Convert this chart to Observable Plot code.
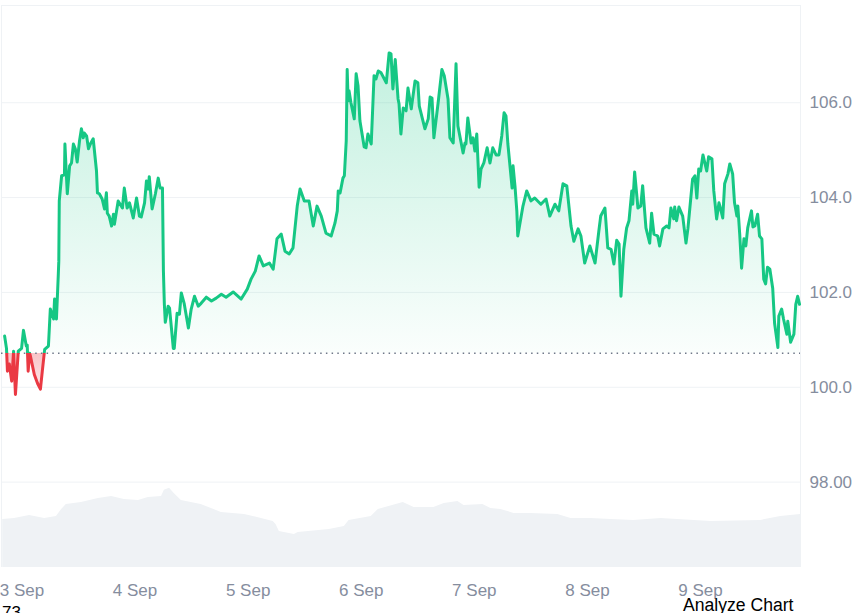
<!DOCTYPE html>
<html><head><meta charset="utf-8">
<script src="https://cdn.jsdelivr.net/npm/d3@7"></script>
<script src="https://cdn.jsdelivr.net/npm/@observablehq/plot@0.6"></script>
<style>
html,body{margin:0;padding:0;background:#fff;overflow:hidden;width:855px;height:613px}
#chart{position:absolute;left:0;top:0}
.foot{position:absolute;font:17px "Liberation Sans",Arial,sans-serif;color:#000;white-space:nowrap}
</style></head><body>
<div id="chart"></div>
<div class="foot" id="leftNote" style="left:2px;top:603px">73</div>
<div class="foot" id="rightNote" style="left:683px;top:595px;font-size:17.6px">Analyze Chart</div>
<script>
// hours since 3 Sep 00:00
const priceHours = [-4.0,-3.6,-3.4,-3.0,-2.5,-2.1,-1.7,-1.1,-0.4,0,0.6,0.8,1.0,1.3,1.5,2.3,3.0,3.6,4.0,4.5,5.3,5.7,6.4,6.6,7.0,7.4,7.5,7.6,8.1,8.7,8.8,9.3,9.8,10.2,10.6,11.0,11.4,11.9,12.3,12.7,12.9,13.4,13.8,14.2,14.8,15.5,15.7,16.1,16.7,17.2,17.6,17.8,18.2,18.7,19.1,19.3,20.1,21.0,21.4,22.0,22.5,23.3,24.0,24.6,25.0,25.7,26.1,26.5,26.7,27.3,28.0,28.6,29.0,29.5,29.7,29.9,30.1,30.7,31.0,31.4,31.8,32.0,32.6,33.1,33.5,34.1,35.0,35.6,36.3,37.1,37.7,38.8,39.9,40.9,42.0,43.0,44.5,46.2,47.5,48.3,49.2,50.0,50.9,52.2,53.0,53.8,54.7,55.5,56.4,57.2,58.1,58.7,59.6,60.6,61.5,62.3,63.2,64.2,65.3,66.1,66.6,66.8,67.2,67.8,68.1,68.5,68.7,68.9,69.1,69.5,70.2,70.6,71.0,71.4,72.3,72.7,73.1,73.8,74.4,74.8,75.3,75.9,77.0,77.6,78.0,78.4,78.9,79.5,79.7,80.1,80.6,81.2,81.6,82.3,83.1,83.7,84.0,85.2,85.9,86.3,86.7,87.1,88.0,88.8,89.3,90.1,90.5,91.2,91.8,92.2,93.3,93.7,93.9,94.3,95.0,95.4,95.8,96.2,96.7,97.1,97.7,98.4,99.0,99.6,100.3,100.9,101.5,102.0,102.4,102.8,103.7,103.9,104.3,104.7,104.9,106.0,106.8,107.7,108.5,109.8,110.9,111.7,112.8,113.6,114.5,115.3,116.2,116.8,117.7,118.3,119.1,120.2,121.3,122.1,122.5,123.4,124.0,124.7,125.3,125.9,126.4,126.8,127.4,128.0,128.5,129.1,129.3,129.7,130.4,131.0,131.4,132.1,132.9,133.3,133.8,134.6,135.0,135.7,136.5,137.0,137.4,138.0,138.2,138.6,139.1,139.9,140.6,141.0,141.6,142.0,142.5,142.9,143.3,143.7,144.2,145.0,145.4,146.1,146.5,147.1,147.6,147.8,148.4,148.8,149.5,149.9,150.5,150.9,151.4,151.6,152.0,152.4,152.9,153.3,153.7,154.5,154.8,155.2,155.8,156.2,156.7,157.1,157.5,157.9,158.4,159.0,159.4,160.1,160.3,160.9,161.3,162.0,162.2,162.8,163.5,163.9,164.3,164.7];
const prices = [101.08,100.82,100.34,100.49,100.13,100.76,99.85,100.76,100.82,101.20,100.87,100.89,100.34,100.72,100.65,100.27,100.08,99.96,100.34,100.80,100.87,101.65,101.44,101.86,101.44,102.39,102.66,103.93,104.46,104.48,105.13,104.08,104.67,104.73,105.13,105.03,104.75,105.20,105.45,105.26,105.36,105.30,105.03,105.13,105.24,104.56,104.10,104.08,103.97,103.76,104.10,103.67,103.61,103.40,103.65,103.44,103.93,103.78,104.20,103.78,103.89,103.57,103.99,103.61,103.59,103.89,104.35,104.18,104.44,103.76,104.08,104.41,104.20,104.20,102.45,101.75,101.37,101.71,101.67,101.25,100.82,100.82,101.56,101.54,101.99,101.77,101.25,101.65,101.92,101.71,101.77,101.90,101.82,101.88,101.96,101.90,102.01,101.86,102.07,102.28,102.45,102.77,102.56,102.62,102.49,103.13,103.23,102.87,102.81,102.94,103.82,104.18,103.93,103.93,103.40,103.82,103.61,103.25,103.19,103.46,103.72,104.14,104.10,104.41,104.46,105.20,106.70,106.04,106.25,106.00,105.66,106.61,106.36,105.62,105.07,105.05,105.34,105.13,106.57,106.50,106.67,106.63,106.42,107.05,107.03,106.29,106.91,106.08,105.98,105.34,105.89,105.83,106.31,105.87,106.46,106.42,105.93,105.45,105.66,106.12,106.10,105.26,106.00,106.70,106.57,106.08,105.26,105.15,106.82,105.51,104.94,105.15,105.13,105.68,105.15,105.26,104.98,105.34,104.22,104.60,104.73,105.05,104.73,105.05,104.90,104.90,105.30,105.79,105.72,105.13,104.20,104.67,104.25,103.72,103.19,103.82,104.14,103.93,103.99,103.86,103.97,103.61,103.86,103.72,104.29,104.25,103.40,103.08,103.34,103.19,102.62,102.98,102.62,103.29,103.61,103.78,102.94,102.91,102.60,103.10,103.02,101.92,102.91,103.36,103.51,104.14,103.86,104.54,103.78,103.82,104.25,103.36,103.04,103.67,103.23,103.19,102.98,103.34,103.40,103.36,103.78,103.55,103.80,103.51,103.80,103.61,103.04,103.34,103.97,104.39,104.46,103.99,104.60,104.56,104.90,104.56,104.86,104.82,104.14,103.55,103.89,103.82,103.57,104.29,104.50,104.71,104.50,103.89,103.61,103.82,103.23,102.51,103.13,102.98,103.36,103.72,103.38,103.40,103.65,103.19,103.13,102.28,102.18,102.53,102.49,102.09,101.35,100.84,101.50,101.65,101.44,101.12,101.39,100.95,101.12,101.75,101.92,101.75];
const volumeHours = [-4.4,-1.9,1.3,4.5,7.0,8.1,9.1,12.3,15.9,18.7,21.4,24.4,26.5,29.3,29.9,31.0,32.0,33.5,37.7,42.0,46.9,50.5,53.0,53.6,54.3,57.5,58.3,64.9,68.1,69.1,73.8,75.3,80.6,82.9,87.1,89.3,92.2,93.5,97.5,99.2,101.3,104.1,107.7,113.4,116.2,120.4,124.7,129.5,135.3,145.9,156.5,160.7,164.9];
const volumes = [4.8,4.9,5.2,4.9,5.1,5.8,6.3,6.5,6.9,7.1,6.8,6.7,7.0,7.1,7.7,7.9,7.4,6.7,6.3,5.5,5.3,4.9,4.6,4.3,3.6,3.3,3.5,3.8,4.1,4.7,5.1,5.8,6.5,6.0,6.0,6.4,6.6,6.2,6.3,5.9,5.8,5.4,5.4,5.3,4.9,4.9,4.8,4.7,4.9,4.6,4.7,5.1,5.3];
const priceTicks = [98,100,102,104,106];
const dayTicks = [0,24,48,72,96,120,144];
const baseline = 100.72;
const priceTop = 108.05, priceBottom = 96.2;
const hourStart = -4.66, hourEnd = 164.9;
const volumeToPrice = 0.2112;

const GREEN = "#16c784", RED = "#ea3943", GRID = "#eff2f5", AXIS = "#858d9e";
const t = h => new Date(Date.UTC(2025, 8, 3) + h * 3600e3);
const priceData = priceHours.map((h, i) => ({time: t(h), price: prices[i]}));
const volumeData = volumeHours.map((h, i) => ({time: t(h), level: priceBottom + volumes[i] * volumeToPrice}));

function gradients(index, {y}) {
  const y0 = y(priceTop), y1 = y(priceBottom);
  const off = (y(baseline) - y0) / (y1 - y0);
  const defs = d3.create("svg:defs");
  const line = defs.append("linearGradient").attr("id", "lineGrad").attr("gradientUnits", "userSpaceOnUse")
    .attr("x1", 0).attr("x2", 0).attr("y1", y0).attr("y2", y1);
  line.append("stop").attr("offset", off).attr("stop-color", GREEN);
  line.append("stop").attr("offset", off).attr("stop-color", RED);
  const area = defs.append("linearGradient").attr("id", "areaGrad").attr("gradientUnits", "userSpaceOnUse")
    .attr("x1", 0).attr("x2", 0).attr("y1", y0).attr("y2", y1);
  area.append("stop").attr("offset", 0).attr("stop-color", GREEN).attr("stop-opacity", 0.3);
  area.append("stop").attr("offset", off).attr("stop-color", GREEN).attr("stop-opacity", 0.02);
  area.append("stop").attr("offset", off).attr("stop-color", RED).attr("stop-opacity", 0.3);
  area.append("stop").attr("offset", (y(99.8) - y0) / (y1 - y0)).attr("stop-color", RED).attr("stop-opacity", 0.08);
  return defs.node();
}

const chart = Plot.plot({
  width: 852, height: 613,
  marginLeft: 1, marginRight: 52, marginTop: 5, marginBottom: 46,
  style: {fontFamily: '"Liberation Sans", Arial, sans-serif', fontSize: "17px", background: "#fff", overflow: "hidden"},
  x: {type: "time", domain: [t(hourStart), t(hourEnd)]},
  y: {domain: [priceBottom, priceTop]},
  marks: [
    gradients,
    Plot.ruleY(priceTicks, {stroke: GRID, strokeWidth: 1}),
    Plot.ruleY([priceTop], {stroke: GRID, strokeWidth: 1}),
    Plot.ruleX([t(hourStart), t(hourEnd)], {stroke: GRID, strokeWidth: 1}),
    Plot.areaY(volumeData, {x: "time", y1: priceBottom, y2: "level", fill: GRID}),
    Plot.areaY(priceData, {x: "time", y1: baseline, y2: "price", fill: "url(#areaGrad)"}),
    Plot.ruleY([baseline], {stroke: "#6f7889", strokeWidth: 1.5, strokeDasharray: "1.5 4.2"}),
    Plot.lineY(priceData, {x: "time", y: "price", stroke: "url(#lineGrad)", strokeWidth: 3, strokeLinejoin: "round"}),
    Plot.axisY({anchor: "right", ticks: priceTicks, tickSize: 0, tickPadding: 9, label: null,
      tickFormat: d3.format(".2f"), fill: AXIS, textAnchor: "start"}),
    Plot.axisX({anchor: "bottom", ticks: dayTicks.map(t), tickSize: 0, tickPadding: 16, label: null, dx: -1.5,
      tickFormat: d3.utcFormat("%-d %b"), fill: AXIS})
  ]
});
document.getElementById("chart").append(chart);
</script>
</body></html>
